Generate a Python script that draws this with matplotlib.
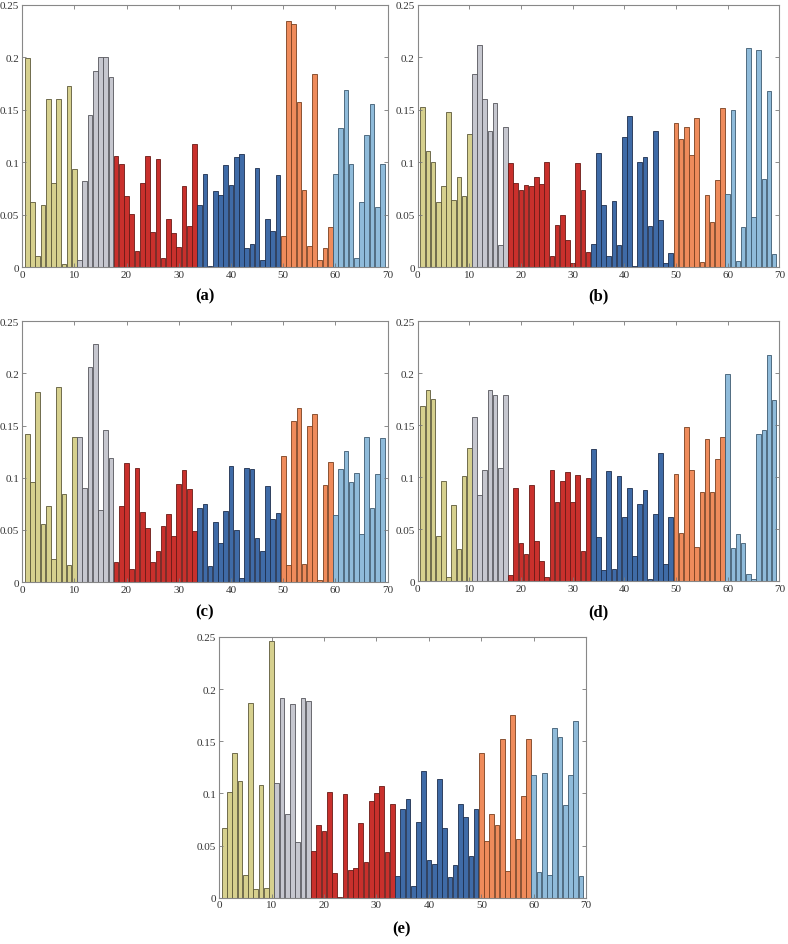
import matplotlib
matplotlib.use('Agg')
import matplotlib.pyplot as plt
import numpy as np

plt.rcParams['font.family'] = ['Liberation Serif', 'DejaVu Serif']

# group sizes (yellow, gray, red, blue, orange, light blue)
group_sizes = [10, 7, 16, 16, 10, 10]
fill_colors = ['#d6d08e', '#c6c7cf', '#c9302c', '#3f6ba7', '#ef8b5b', '#8fbbda']
edge_colors = ['#5c5838', '#55565c', '#6a1a16', '#1d2f4e', '#7a4020', '#3d5a70']

values_a = [0.199, 0.062, 0.011, 0.059, 0.160, 0.080, 0.160, 0.003, 0.173, 0.094,
            0.007, 0.082, 0.145, 0.187, 0.200, 0.200, 0.181,
            0.106, 0.098, 0.068, 0.051, 0.016, 0.080, 0.106, 0.034, 0.103, 0.009,
            0.046, 0.033, 0.019, 0.077, 0.039, 0.117,
            0.059, 0.089, 0.001, 0.073, 0.069, 0.097, 0.078, 0.105, 0.108, 0.018,
            0.022, 0.095, 0.007, 0.046, 0.035, 0.088,
            0.030, 0.234, 0.232, 0.157, 0.074, 0.020, 0.184, 0.007, 0.018, 0.038,
            0.089, 0.133, 0.169, 0.098, 0.009, 0.062, 0.126, 0.155, 0.057, 0.098]

values_b = [0.153, 0.111, 0.100, 0.062, 0.077, 0.148, 0.064, 0.086, 0.068, 0.127,
            0.184, 0.212, 0.160, 0.130, 0.156, 0.021, 0.134,
            0.099, 0.080, 0.074, 0.078, 0.077, 0.086, 0.079, 0.100, 0.011, 0.040,
            0.050, 0.026, 0.004, 0.099, 0.074, 0.015,
            0.022, 0.109, 0.059, 0.011, 0.063, 0.021, 0.124, 0.144, 0.001, 0.100,
            0.105, 0.039, 0.130, 0.045, 0.004, 0.014,
            0.137, 0.122, 0.134, 0.107, 0.142, 0.005, 0.069, 0.043, 0.083, 0.152,
            0.070, 0.150, 0.006, 0.038, 0.209, 0.048, 0.207, 0.084, 0.168, 0.013]

values_c = [0.142, 0.096, 0.182, 0.056, 0.073, 0.022, 0.187, 0.084, 0.016, 0.139,
            0.139, 0.090, 0.206, 0.228, 0.069, 0.146, 0.119,
            0.019, 0.073, 0.114, 0.013, 0.109, 0.067, 0.052, 0.019, 0.030, 0.054,
            0.065, 0.044, 0.094, 0.107, 0.089, 0.049,
            0.071, 0.075, 0.015, 0.058, 0.037, 0.068, 0.111, 0.050, 0.004, 0.109,
            0.108, 0.042, 0.030, 0.092, 0.060, 0.066,
            0.121, 0.016, 0.154, 0.167, 0.017, 0.150, 0.161, 0.002, 0.093, 0.115,
            0.064, 0.108, 0.126, 0.096, 0.105, 0.046, 0.139, 0.071, 0.104, 0.138]

values_d = [0.168, 0.184, 0.175, 0.043, 0.096, 0.004, 0.073, 0.031, 0.101, 0.128,
            0.158, 0.083, 0.107, 0.184, 0.179, 0.109, 0.179,
            0.006, 0.090, 0.037, 0.026, 0.092, 0.039, 0.019, 0.004, 0.107, 0.076,
            0.096, 0.105, 0.076, 0.102, 0.029, 0.099,
            0.127, 0.042, 0.011, 0.106, 0.012, 0.101, 0.062, 0.090, 0.024, 0.074,
            0.088, 0.002, 0.065, 0.123, 0.016, 0.062,
            0.103, 0.046, 0.148, 0.107, 0.033, 0.086, 0.137, 0.086, 0.117, 0.139,
            0.199, 0.032, 0.045, 0.037, 0.007, 0.002, 0.142, 0.145, 0.218, 0.174]

values_e = [0.067, 0.101, 0.139, 0.112, 0.022, 0.187, 0.008, 0.108, 0.009, 0.246,
            0.110, 0.191, 0.080, 0.186, 0.053, 0.191, 0.189,
            0.045, 0.070, 0.064, 0.101, 0.024, 0.001, 0.099, 0.027, 0.028, 0.072,
            0.034, 0.093, 0.100, 0.107, 0.044, 0.090,
            0.021, 0.085, 0.095, 0.011, 0.073, 0.121, 0.036, 0.032, 0.114, 0.067,
            0.020, 0.031, 0.090, 0.077, 0.040, 0.085,
            0.139, 0.054, 0.080, 0.070, 0.152, 0.026, 0.175, 0.056, 0.097, 0.152,
            0.118, 0.025, 0.120, 0.022, 0.163, 0.154, 0.089, 0.118, 0.169, 0.021]

panel_labels = ['(a)', '(b)', '(c)', '(d)', '(e)']
y_ticks = [0, 0.05, 0.1, 0.15, 0.2, 0.25]
y_tick_labels = ['0', '0.05', '0.1', '0.15', '0.2', '0.25']
x_ticks = [0, 10, 20, 30, 40, 50, 60, 70]


def draw_panel(ax, values):
    colors = []
    edges = []
    for size, fc, ec in zip(group_sizes, fill_colors, edge_colors):
        colors += [fc] * size
        edges += [ec] * size
    x = np.arange(1, len(values) + 1)
    ax.bar(x, values, width=0.9, color=colors, edgecolor=edges, linewidth=0.6)
    ax.set_xlim(0, 70)
    ax.set_ylim(0, 0.25)
    ax.set_xticks(x_ticks)
    ax.set_yticks(y_ticks)
    ax.set_yticklabels(y_tick_labels)
    ax.tick_params(direction='in', top=True, right=True, length=3, width=0.6,
                   labelsize=8, colors='#777777', labelcolor='#333333', pad=2)
    for spine in ax.spines.values():
        spine.set_color('#888888')
        spine.set_linewidth(0.8)


fig = plt.figure(figsize=(7.88, 9.45), dpi=100)

# axes rectangles in figure fraction
rects = [
    [0.028, 0.716, 0.464, 0.278],
    [0.530, 0.716, 0.459, 0.278],
    [0.028, 0.383, 0.464, 0.276],
    [0.530, 0.384, 0.459, 0.275],
    [0.278, 0.049, 0.466, 0.276],
]
label_pos = [(0.260, 0.686), (0.759, 0.686), (0.260, 0.352), (0.759, 0.352), (0.509, 0.016)]
all_values = [values_a, values_b, values_c, values_d, values_e]

for rect, vals, lab, pos in zip(rects, all_values, panel_labels, label_pos):
    ax = fig.add_axes(rect)
    draw_panel(ax, vals)
    fig.text(pos[0], pos[1], lab, ha='center', va='center', fontsize=12,
             fontweight='bold')

fig.savefig('out.png', dpi=100)
